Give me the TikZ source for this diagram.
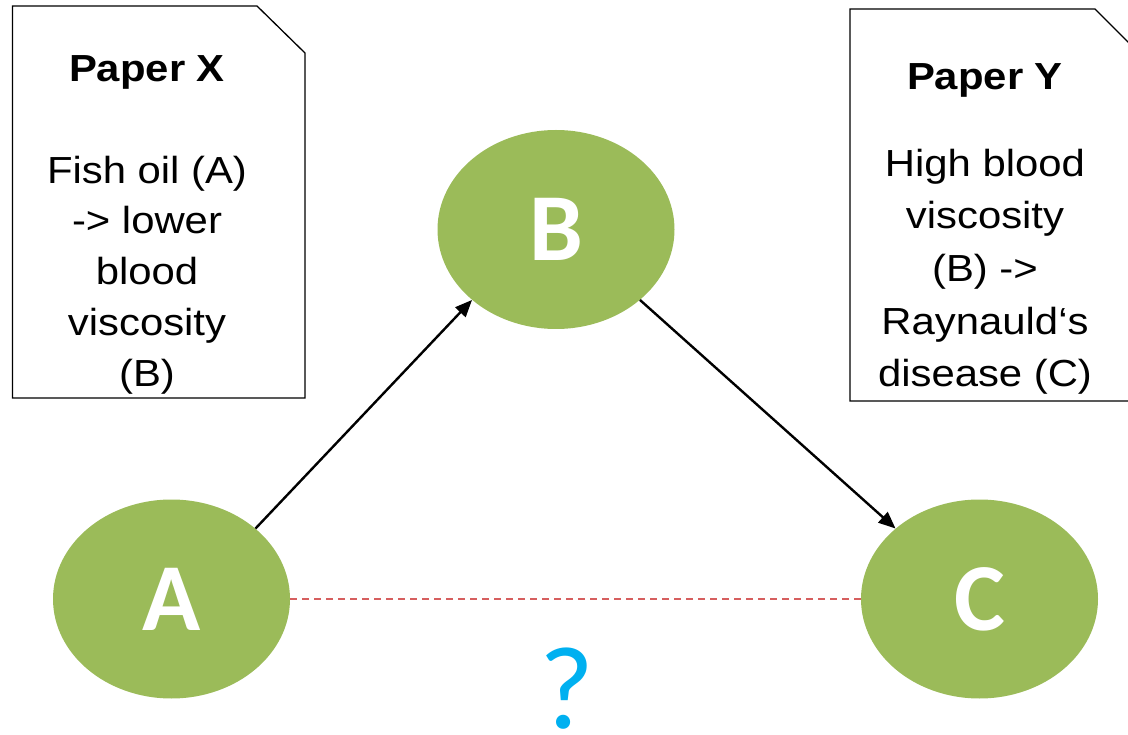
\documentclass[tikz,border=0pt]{standalone}
\usepackage{fontspec}
\setmainfont{Liberation Sans}[FakeStretch=1.11]
\newfontfamily\lettersfont{Carlito}
\usetikzlibrary{arrows.meta,shapes.geometric}
\definecolor{leafgreen}{HTML}{9BBB59}
\definecolor{linkred}{HTML}{D65F5F}
\definecolor{askblue}{HTML}{00B0F0}

\begin{document}
\begin{tikzpicture}[x=1pt,y=-1pt,
  paper/.style={draw=black,line width=1.3pt,fill=white},
  circ/.style={ellipse,fill=leafgreen,minimum width=237pt,minimum height=199pt,
    inner sep=0pt,text=white,font=\lettersfont\bfseries\fontsize{96}{96}\selectfont},
  ptitle/.style={font=\bfseries\fontsize{37.7}{45}\selectfont},
  pbody/.style={align=center,font=\fontsize{37.7}{51}\selectfont},
  link/.style={line width=2.4pt,-{Triangle[length=17pt,width=14pt]}},
  doubt/.style={draw=linkred,line width=1.4pt,dash pattern=on 7pt off 5pt}]
\useasboundingbox (0,0) rectangle (1128,735);

% the two paper sheets with a folded corner
\begin{scope}
  \clip (0,0) rectangle (1128,735);
  \draw[paper] (12.5,398) -- (12.5,6) -- (257,6) -- (305,53) -- (305,398) -- cycle;
  \draw[paper] (850,401) -- (850,9) -- (1095,9) -- (1143,57) -- (1143,401) -- cycle;
\end{scope}

% paper texts (multi-line nodes sit on the baseline of their last line)
\node[ptitle,anchor=base] (xtitle) at (147,82) {Paper X};
\node[pbody,anchor=base] (xbody) at (147,387)
  {Fish oil (A)\\-> lower\\blood\\viscosity\\(B)};
\node[ptitle,anchor=base] (ytitle) at (985,90) {Paper Y};
\node[pbody,anchor=base,font=\fontsize{37.7}{52.7}\selectfont] (ybody) at (985,387)
  {High blood\\viscosity\\(B) ->\\Raynauld‘s\\disease (C)};

% the three variables
\node[circ] (A) at (171.5,599) {A};
\node[circ] (B) at (556,229.5) {B};
\node[circ] (C) at (979.5,599) {C};

\draw[link] (A.40) -- (B.220);
\draw[link] (B.320) -- (C.140);
\draw[doubt] (A.east) -- (C.west);

\node[text=askblue,inner sep=0pt,font=\lettersfont\fontsize{118}{118}\selectfont] (q) at (567,689) {?};
\end{tikzpicture}
\end{document}
